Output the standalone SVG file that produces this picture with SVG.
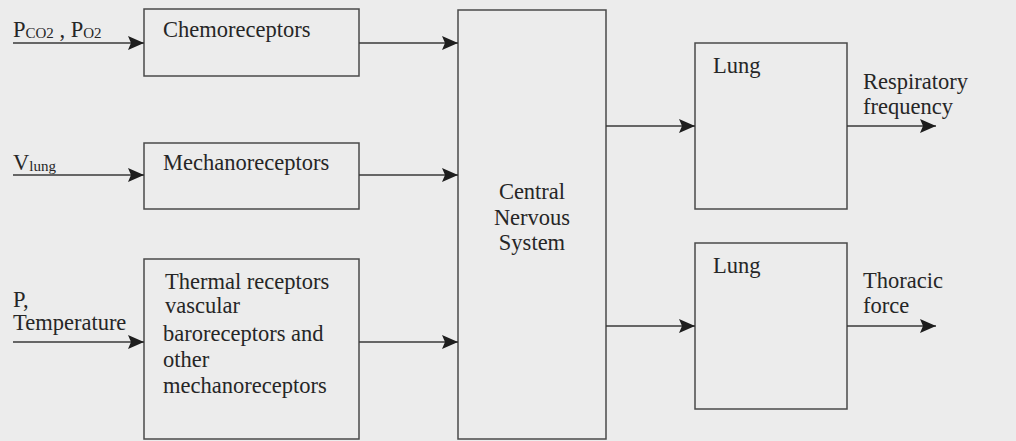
<svg xmlns="http://www.w3.org/2000/svg" width="1016" height="441" viewBox="0 0 1016 441">
  <defs>
    <marker id="head" markerWidth="16" markerHeight="14" refX="16" refY="7" orient="auto" markerUnits="userSpaceOnUse">
      <path d="M0,0 L16,7 L0,14 L3,7 Z" fill="#1e1e1e"/>
    </marker>
  </defs>

  <rect width="1016" height="441" fill="#ececec"/>

  <!-- all labels share one serif face; boxes share one outline -->
  <g font-family="Liberation Serif" font-size="22.5" fill="#262626">

    <!-- inputs -->
    <g id="in-gases">
      <text x="13" y="37">P<tspan font-size="15" dy="1">CO2</tspan><tspan dy="-1"> , P</tspan><tspan font-size="15" dy="1">O2</tspan></text>
    </g>
    <g id="in-volume">
      <text x="13" y="170">V<tspan font-size="15" dy="1">lung</tspan></text>
    </g>
    <g id="in-pressure">
      <text x="13" y="307">P,</text>
      <text x="13" y="330">Temperature</text>
    </g>

    <!-- receptor blocks -->
    <g id="chemoreceptors">
      <rect x="144" y="9" width="215" height="67" fill="none" stroke="#4a4a4a" stroke-width="1.5"/>
      <text x="163" y="37">Chemoreceptors</text>
    </g>
    <g id="mechanoreceptors">
      <rect x="144" y="143" width="215" height="66" fill="none" stroke="#4a4a4a" stroke-width="1.5"/>
      <text x="163" y="170">Mechanoreceptors</text>
    </g>
    <g id="thermal-receptors">
      <rect x="144" y="259" width="215" height="180" fill="none" stroke="#4a4a4a" stroke-width="1.5"/>
      <text x="165" y="289">Thermal receptors</text>
      <text x="165" y="313">vascular</text>
      <text x="163" y="341">baroreceptors and</text>
      <text x="163" y="367">other</text>
      <text x="163" y="393">mechanoreceptors</text>
    </g>

    <!-- central controller -->
    <g id="cns" text-anchor="middle">
      <rect x="458" y="10" width="148" height="429" fill="none" stroke="#4a4a4a" stroke-width="1.5"/>
      <text x="532" y="199">Central</text>
      <text x="532" y="225">Nervous</text>
      <text x="532" y="250">System</text>
    </g>

    <!-- effectors -->
    <g id="lung-1">
      <rect x="695" y="43" width="152" height="166" fill="none" stroke="#4a4a4a" stroke-width="1.5"/>
      <text x="713" y="73">Lung</text>
    </g>
    <g id="lung-2">
      <rect x="695" y="243" width="152" height="166" fill="none" stroke="#4a4a4a" stroke-width="1.5"/>
      <text x="713" y="273">Lung</text>
    </g>

    <!-- outputs -->
    <g id="out-frequency">
      <text x="863" y="89">Respiratory</text>
      <text x="863" y="114">frequency</text>
    </g>
    <g id="out-force">
      <text x="863" y="288">Thoracic</text>
      <text x="863" y="313">force</text>
    </g>
  </g>

  <!-- connectors -->
  <g id="connectors" stroke="#3a3a3a" stroke-width="1.5" fill="none" marker-end="url(#head)">
    <line x1="13" y1="43" x2="144" y2="43"/>
    <line x1="13" y1="175" x2="144" y2="175"/>
    <line x1="13" y1="342" x2="144" y2="342"/>
    <line x1="359" y1="43" x2="458" y2="43"/>
    <line x1="359" y1="175" x2="458" y2="175"/>
    <line x1="359" y1="342" x2="458" y2="342"/>
    <line x1="606" y1="126" x2="695" y2="126"/>
    <line x1="606" y1="326" x2="695" y2="326"/>
    <line x1="847" y1="126" x2="936" y2="126"/>
    <line x1="847" y1="326" x2="936" y2="326"/>
  </g>
</svg>
